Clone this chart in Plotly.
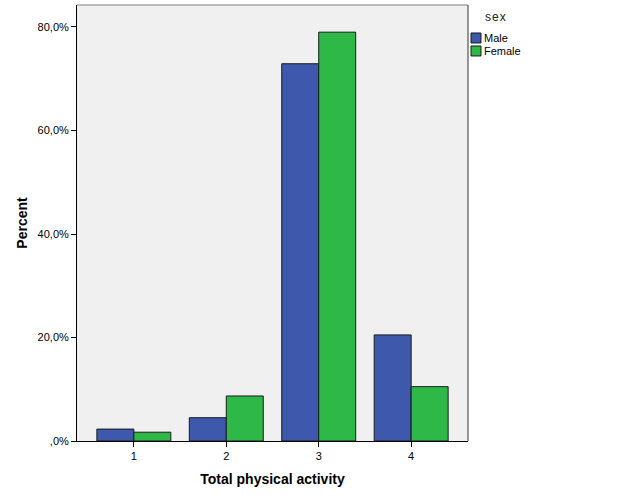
import plotly.graph_objects as go

categories = ["1", "2", "3", "4"]
male = [2.3, 4.5, 72.9, 20.5]
female = [1.7, 8.7, 79.0, 10.5]
y_tickvals = [0, 20, 40, 60, 80]
y_ticktext = [",0%", "20,0%", "40,0%", "60,0%", "80,0%"]
series_names = ["Male", "Female"]
series_colors = ["#3E58AC", "#2EB848"]

fig = go.Figure()
for name, vals, col in zip(series_names, [male, female], series_colors):
    fig.add_trace(go.Bar(x=[1, 2, 3, 4], y=vals, name=name, showlegend=False,
                         marker=dict(color=col, line=dict(color="#1a1a1a", width=1))))

# manual legend (paper coords)
shapes = [
    dict(type="line", xref="paper", yref="paper", x0=0, x1=1, y0=1, y1=1,
         line=dict(color="#808080", width=1)),
    dict(type="line", xref="paper", yref="paper", x0=1, x1=1, y0=0, y1=1,
         line=dict(color="#333333", width=1)),
]
annotations = [
    dict(xref="paper", yref="paper", x=1.0384, y=0.9725, xanchor="left", yanchor="middle",
         text="s\u200ae\u200ax", showarrow=False,
         font=dict(family="Liberation Sans, Arial, sans-serif", size=12, color="#222"))
]
sw_tops = [0.9358, 0.906]
for name, col, top in zip(series_names, series_colors, sw_tops):
    shapes.append(dict(type="rect", xref="paper", yref="paper",
                       x0=1.0077, x1=1.0332, y0=top - 0.0229, y1=top,
                       fillcolor=col, line=dict(color="#1a1a1a", width=1)))
    annotations.append(dict(xref="paper", yref="paper", x=1.0370, y=top - 0.0115,
                            xanchor="left", yanchor="middle", text=name, showarrow=False,
                            font=dict(size=11)))

fig.update_layout(
    width=626, height=501,
    margin=dict(l=77, r=158, t=5, b=60),
    paper_bgcolor="white",
    plot_bgcolor="#F0F0F0",
    barmode="group",
    bargap=0.2,
    bargroupgap=0,
    showlegend=False,
    font=dict(family="Liberation Sans, Arial, sans-serif", size=11, color="#000"),
    xaxis=dict(
        range=[0.385, 4.615],
        tickvals=[1, 2, 3, 4], ticktext=categories,
        showgrid=False, zeroline=False,
        showline=True, linecolor="#000", linewidth=1,
        ticks="outside", ticklen=5, tickcolor="#000",
        title=dict(text="<b>Total physical activity</b>", font=dict(size=14), standoff=12),
    ),
    yaxis=dict(
        range=[0, 84.25],
        tickvals=y_tickvals, ticktext=y_ticktext,
        showgrid=False, zeroline=False,
        showline=True, linecolor="#000", linewidth=1,
        ticks="outside", ticklen=5, tickcolor="#000",
        title=dict(text="<b>Percent</b>", font=dict(size=14), standoff=6),
    ),
    shapes=shapes,
    annotations=annotations,
)

fig.write_html("out.html", config={"displayModeBar": False},
               post_script="document.body.style.margin='0';")
